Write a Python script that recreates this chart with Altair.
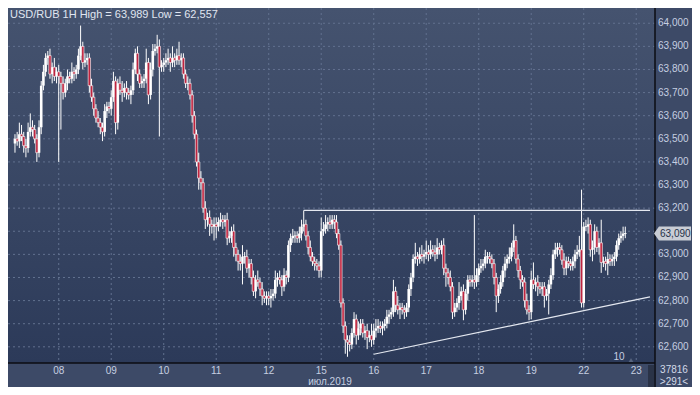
import altair as alt
import pandas as pd

# ---------------- data ----------------
title_text = "USD/RUB 1H High = 63,989 Low = 62,557"
month_label = "июл.2019"
volume_text = "37816"
count_text = ">291<"
marker_text = "10"

first_open = 63.48
closes = (
    # Jul 05 (partial)
    [63.50, 63.49, 63.52, 63.51, 63.47, 63.46, 63.53, 63.55, 63.54, 63.50, 63.44, 63.55, 63.73, 63.79, 63.85, 63.86, 63.78, 63.81, 63.77, 63.79]
    # Jul 08
    + [63.77, 63.74, 63.70, 63.74, 63.77, 63.76, 63.79, 63.78, 63.80, 63.86, 63.90, 63.83, 63.84, 63.85, 63.73, 63.68, 63.63, 63.59, 63.57, 63.55, 63.53, 63.62, 63.64, 63.63]
    # Jul 09
    + [63.68, 63.75, 63.57, 63.74, 63.71, 63.70, 63.72, 63.70, 63.69, 63.71, 63.80, 63.87, 63.78, 63.74, 63.75, 63.76, 63.83, 63.69, 63.80, 63.88, 63.89, 63.90, 63.81, 63.82]
    # Jul 10
    + [63.83, 63.84, 63.85, 63.83, 63.85, 63.84, 63.86, 63.84, 63.85, 63.78, 63.74, 63.74, 63.69, 63.60, 63.52, 63.40, 63.33, 63.31, 63.20, 63.15, 63.16, 63.13, 63.12, 63.13]
    # Jul 11
    + [63.12, 63.14, 63.15, 63.14, 63.15, 63.07, 63.08, 63.10, 63.03, 63.00, 62.97, 62.96, 62.99, 62.99, 62.94, 62.96, 62.90, 62.84, 62.89, 62.88, 62.85, 62.82, 62.81, 62.82]
    # Jul 12
    + [62.81, 62.82, 62.83, 62.89, 62.90, 62.89, 62.86, 62.91, 62.90, 63.04, 63.07, 63.08, 63.08, 63.07, 63.09, 63.12, 63.13, 63.08, 63.03, 62.99, 62.97, 62.96, 62.95, 62.93]
    # Jul 15
    + [63.10, 63.11, 63.13, 63.14, 63.13, 63.15, 63.14, 63.09, 63.04, 62.79, 62.69, 62.63, 62.62, 62.61, 62.66, 62.72, 62.65, 62.68, 62.70, 62.66, 62.67, 62.64, 62.65, 62.63]
    # Jul 16
    + [62.67, 62.68, 62.69, 62.68, 62.69, 62.70, 62.73, 62.74, 62.75, 62.84, 62.78, 62.76, 62.77, 62.76, 62.75, 62.77, 62.85, 62.90, 62.98, 62.99, 62.98, 63.00, 62.99, 63.00]
    # Jul 17
    + [63.01, 63.00, 63.02, 63.01, 63.00, 63.03, 63.02, 63.04, 62.94, 62.92, 62.90, 62.86, 62.75, 62.77, 62.79, 62.82, 62.84, 62.76, 62.83, 62.89, 62.88, 62.89, 62.88, 62.91]
    # Jul 18
    + [62.94, 62.95, 62.96, 62.99, 62.99, 62.98, 62.96, 62.90, 62.82, 62.85, 62.88, 62.93, 62.96, 62.98, 62.99, 63.03, 63.06, 62.98, 62.93, 62.89, 62.88, 62.80, 62.76, 62.75]
    # Jul 19
    + [62.89, 62.87, 62.88, 62.86, 62.85, 62.86, 62.82, 62.83, 62.87, 62.91, 63.00, 63.02, 63.03, 63.02, 62.975, 62.94, 62.97, 62.96, 62.95, 62.97, 63.00, 63.01, 63.02, 62.79]
    # Jul 22 (partial)
    + [63.12, 63.12, 63.13, 63.02, 63.03, 63.10, 63.03, 63.05, 62.965, 62.97, 62.96, 62.98, 62.97, 62.98, 62.99, 63.04, 63.07, 63.08, 63.09, 63.09]
)

wick_up = (
    [0.02, 0.03, 0.05, 0.04, 0.02, 0.03, 0.04, 0.06, 0.03, 0.02, 0.02, 0.03, 0.02, 0.03, 0.02, 0.02, 0.03, 0.02, 0.04, 0.02]
    + [0.03, 0.02, 0.03, 0.02, 0.03, 0.02, 0.04, 0.02, 0.02, 0.03, 0.09, 0.02, 0.03, 0.02, 0.02, 0.03, 0.02, 0.02, 0.03, 0.02, 0.02, 0.03, 0.02, 0.02]
    + [0.03, 0.04, 0.02, 0.02, 0.03, 0.04, 0.02, 0.03, 0.02, 0.02, 0.03, 0.02, 0.03, 0.02, 0.02, 0.02, 0.06, 0.02, 0.03, 0.03, 0.02, 0.05, 0.03, 0.02]
    + [0.02, 0.03, 0.04, 0.02, 0.05, 0.02, 0.03, 0.06, 0.02, 0.02, 0.02, 0.03, 0.02, 0.02, 0.02, 0.02, 0.04, 0.03, 0.02, 0.03, 0.02, 0.03, 0.02, 0.03]
    + [0.03, 0.02, 0.03, 0.02, 0.02, 0.03, 0.02, 0.02, 0.03, 0.02, 0.02, 0.03, 0.05, 0.02, 0.03, 0.02, 0.02, 0.03, 0.02, 0.04, 0.02, 0.03, 0.02, 0.02]
    + [0.02, 0.03, 0.02, 0.04, 0.02, 0.03, 0.02, 0.03, 0.02, 0.02, 0.02, 0.03, 0.02, 0.02, 0.03, 0.03, 0.06, 0.02, 0.02, 0.03, 0.02, 0.02, 0.02, 0.02]
    + [0.06, 0.03, 0.04, 0.02, 0.03, 0.02, 0.02, 0.03, 0.02, 0.02, 0.02, 0.02, 0.02, 0.03, 0.02, 0.03, 0.02, 0.03, 0.02, 0.02, 0.02, 0.03, 0.02, 0.05]
    + [0.03, 0.04, 0.03, 0.02, 0.02, 0.02, 0.03, 0.02, 0.02, 0.05, 0.02, 0.04, 0.02, 0.02, 0.02, 0.02, 0.02, 0.02, 0.02, 0.06, 0.02, 0.03, 0.04, 0.02]
    + [0.05, 0.03, 0.04, 0.02, 0.03, 0.04, 0.02, 0.02, 0.03, 0.02, 0.02, 0.03, 0.02, 0.02, 0.02, 0.06, 0.02, 0.03, 0.02, 0.02, 0.02, 0.02, 0.28, 0.03]
    + [0.02, 0.03, 0.02, 0.03, 0.02, 0.02, 0.02, 0.02, 0.02, 0.02, 0.03, 0.02, 0.03, 0.02, 0.04, 0.02, 0.07, 0.02, 0.02, 0.02, 0.02, 0.02, 0.03, 0.02]
    + [0.04, 0.075, 0.02, 0.03, 0.02, 0.02, 0.02, 0.02, 0.02, 0.03, 0.02, 0.03, 0.02, 0.02, 0.02, 0.03, 0.02, 0.02, 0.02, 0.02, 0.02, 0.03, 0.06, 0.26]
    + [0.02, 0.03, 0.03, 0.02, 0.03, 0.03, 0.02, 0.02, 0.10, 0.02, 0.02, 0.03, 0.02, 0.02, 0.02, 0.02, 0.02, 0.02, 0.03, 0.03]
)

wick_dn = (
    [0.04, 0.02, 0.03, 0.02, 0.03, 0.04, 0.02, 0.02, 0.03, 0.02, 0.04, 0.02, 0.03, 0.02, 0.02, 0.03, 0.02, 0.04, 0.02, 0.03]
    + [0.37, 0.20, 0.03, 0.02, 0.03, 0.02, 0.02, 0.03, 0.02, 0.02, 0.02, 0.03, 0.02, 0.02, 0.03, 0.02, 0.03, 0.02, 0.02, 0.03, 0.04, 0.02, 0.03, 0.02]
    + [0.03, 0.02, 0.05, 0.03, 0.02, 0.04, 0.02, 0.03, 0.02, 0.04, 0.02, 0.02, 0.03, 0.02, 0.02, 0.03, 0.02, 0.04, 0.02, 0.03, 0.02, 0.02, 0.30, 0.02]
    + [0.03, 0.02, 0.02, 0.04, 0.02, 0.03, 0.02, 0.02, 0.03, 0.02, 0.02, 0.03, 0.02, 0.03, 0.02, 0.02, 0.05, 0.03, 0.02, 0.04, 0.03, 0.05, 0.03, 0.06]
    + [0.05, 0.02, 0.02, 0.03, 0.02, 0.03, 0.02, 0.03, 0.04, 0.03, 0.04, 0.03, 0.09, 0.03, 0.02, 0.04, 0.03, 0.02, 0.03, 0.02, 0.03, 0.04, 0.02, 0.03]
    + [0.03, 0.04, 0.02, 0.02, 0.03, 0.02, 0.04, 0.02, 0.03, 0.02, 0.03, 0.02, 0.03, 0.02, 0.02, 0.03, 0.02, 0.02, 0.03, 0.02, 0.02, 0.03, 0.02, 0.03]
    + [0.03, 0.02, 0.02, 0.03, 0.02, 0.02, 0.03, 0.02, 0.02, 0.02, 0.03, 0.06, 0.063, 0.03, 0.02, 0.02, 0.04, 0.02, 0.03, 0.02, 0.03, 0.05, 0.02, 0.03]
    + [0.02, 0.03, 0.02, 0.02, 0.03, 0.02, 0.02, 0.03, 0.02, 0.02, 0.03, 0.02, 0.04, 0.02, 0.03, 0.02, 0.02, 0.03, 0.02, 0.02, 0.03, 0.02, 0.02, 0.03]
    + [0.02, 0.03, 0.02, 0.02, 0.03, 0.02, 0.02, 0.02, 0.03, 0.06, 0.03, 0.02, 0.03, 0.02, 0.02, 0.03, 0.02, 0.045, 0.02, 0.03, 0.02, 0.02, 0.03, 0.02]
    + [0.03, 0.02, 0.02, 0.02, 0.03, 0.02, 0.02, 0.03, 0.07, 0.03, 0.02, 0.02, 0.03, 0.02, 0.02, 0.02, 0.02, 0.02, 0.03, 0.04, 0.02, 0.03, 0.02, 0.035]
    + [0.03, 0.02, 0.03, 0.04, 0.02, 0.03, 0.05, 0.02, 0.09, 0.02, 0.02, 0.02, 0.03, 0.02, 0.02, 0.03, 0.03, 0.02, 0.02, 0.02, 0.03, 0.02, 0.02, 0.02]
    + [0.02, 0.02, 0.03, 0.03, 0.05, 0.03, 0.02, 0.03, 0.045, 0.02, 0.03, 0.05, 0.02, 0.02, 0.03, 0.02, 0.02, 0.02, 0.02, 0.02]
)

day_ticks = [20, 44, 68, 92, 116, 140, 164, 188, 212, 236, 260, 284]
day_labels = ["08", "09", "10", "11", "12", "15", "16", "17", "18", "19", "22", "23"]
price_ticks = [62.6, 62.7, 62.8, 62.9, 63.0, 63.1, 63.2, 63.3, 63.4, 63.5, 63.6, 63.7, 63.8, 63.9, 64.0]

resistance_x = [132, 290.3]
resistance_y = [63.19, 63.19]
support_x = [164, 290.3]
support_y = [62.568, 62.816]
last_price = 63.09

assert len(closes) == len(wick_up) == len(wick_dn) == 280

# ---------------- table ----------------
opens = [first_open] + closes[:-1]
rows = []
for i, (o, c, wu, wd) in enumerate(zip(opens, closes, wick_up, wick_dn)):
    top, bot = max(o, c), min(o, c)
    if top - bot < 0.004:
        top, bot = (o + c) / 2 + 0.002, (o + c) / 2 - 0.002
    rows.append(dict(i=i, open=o, close=c, high=max(o, c) + wu, low=min(o, c) - wd,
                     bt=top, bb=bot, up=bool(c >= o)))
df = pd.DataFrame(rows)

W, H = 647, 355
FONT = "Liberation Sans"
LABEL = "#c6cfe1"
xs = alt.Scale(domain=[-0.9, 290.3], nice=False, zero=False)
ys = alt.Scale(domain=[62.530, 64.066], nice=False, zero=False)

one = pd.DataFrame({"a": [0]})

bg = alt.Chart(one).mark_rect(
    fill=alt.LinearGradient(gradient="linear", x1=0, x2=0, y1=0, y2=1,
                            stops=[alt.GradientStop(color="#45536f", offset=0),
                                   alt.GradientStop(color="#2c3a59", offset=1)])
).encode(x=alt.value(0), x2=alt.value(W), y=alt.value(0), y2=alt.value(H))

hgrid = alt.Chart(pd.DataFrame({"p": price_ticks})).mark_rule(
    color="#62718f", strokeDash=[2, 3], strokeWidth=1
).encode(y=alt.Y("p:Q", scale=ys, axis=None))

vgrid = alt.Chart(pd.DataFrame({"d": day_ticks})).mark_rule(
    color="#62718f", strokeDash=[2, 3], strokeWidth=1
).encode(x=alt.X("d:Q", scale=xs, axis=None))

# axis labels, placed through the scales (the one under the price tag is hidden, as in the source)
ylab_df = pd.DataFrame({"p": price_ticks,
                        "lab": [f"{v:.3f}".replace(".", ",") for v in price_ticks]})
ylabels = alt.Chart(ylab_df).transform_filter(
    f"abs(datum.p - {last_price}) > 0.04"
).mark_text(
    align="left", baseline="middle", font=FONT, fontSize=10, color=LABEL, clip=False
).encode(x=alt.value(W + 3), y=alt.Y("p:Q", scale=ys, axis=None), text="lab:N")

xlab_df = pd.DataFrame({"d": day_ticks, "lab": day_labels})
xlabels = alt.Chart(xlab_df).mark_text(
    align="center", baseline="middle", font=FONT, fontSize=10, color=LABEL, clip=False
).encode(x=alt.X("d:Q", scale=xs, axis=None), y=alt.value(H + 8), text="lab:N")

wicks = alt.Chart(df).mark_rule(color="#ffffff", strokeWidth=1).encode(
    x=alt.X("i:Q", scale=xs, axis=None),
    y=alt.Y("low:Q", scale=ys, axis=None),
    y2="high:Q",
)

bodies_up = alt.Chart(df).transform_filter("datum.up").mark_bar(
    size=2.6, color="#ffffff"
).encode(x=alt.X("i:Q", scale=xs, axis=None), y=alt.Y("bb:Q", scale=ys, axis=None), y2="bt:Q")

bodies_dn = alt.Chart(df).transform_filter("!datum.up").mark_bar(
    size=2.4, fill="#c0243f", stroke="#ffffff", strokeWidth=0.6
).encode(x=alt.X("i:Q", scale=xs, axis=None), y=alt.Y("bb:Q", scale=ys, axis=None), y2="bt:Q")

trend_df = pd.DataFrame({
    "x": resistance_x + support_x,
    "y": resistance_y + support_y,
    "g": ["res", "res", "sup", "sup"],
})
trends = alt.Chart(trend_df).mark_line(color="#e4e8f0", strokeWidth=1.2).encode(
    x=alt.X("x:Q", scale=xs, axis=None), y=alt.Y("y:Q", scale=ys, axis=None), detail="g:N"
)

tag_df = pd.DataFrame({"p": [last_price], "lab": [f"{last_price:.3f}".replace(".", ",")]})
tag_shape = alt.Chart(tag_df).mark_point(
    shape="M-1,0L-0.73,-0.38L1,-0.38L1,0.38L-0.73,0.38Z", filled=True, opacity=1,
    color="#c9cdd5", size=1369, clip=False
).encode(x=alt.value(W + 17.5), y=alt.Y("p:Q", scale=ys, axis=None))
tag_text = alt.Chart(tag_df).mark_text(
    align="left", baseline="middle", color="#26324a", font=FONT, fontSize=10
).encode(x=alt.value(W + 5), y=alt.Y("p:Q", scale=ys, axis=None), text="lab:N")

frame_v = alt.Chart(one).mark_rule(color="#0b0d12", strokeWidth=1.5).encode(
    x=alt.value(W), y=alt.value(0), y2=alt.value(H + 24))
frame_h = alt.Chart(one).mark_rule(color="#0b0d12", strokeWidth=1.5).encode(
    x=alt.value(0), x2=alt.value(W), y=alt.value(H))
scroll = alt.Chart(one).mark_rect(color="#2a3347").encode(
    x=alt.value(W - 7), x2=alt.value(W - 1), y=alt.value(H + 2), y2=alt.value(H + 24))


def txt(s, x, y, align="left", size=10, color=LABEL):
    return alt.Chart(pd.DataFrame({"t": [s]})).mark_text(
        align=align, baseline="middle", font=FONT, fontSize=size, color=color
    ).encode(x=alt.value(x), y=alt.value(y), text="t:N")


title = txt(title_text, 2, 7, size=11, color="#e0e6f1")
month = txt(month_label, 322, H + 18.5, align="center")
marker = txt(marker_text, W - 36, H - 6, align="center")
marker_tri = alt.Chart(one).mark_point(shape="triangle-up", filled=True, color="#56647f",
                                       size=22, opacity=1).encode(
    x=alt.value(W - 24), y=alt.value(H - 3))
vol = txt(volume_text, W + 19, H + 7, align="center", color="#d3dae8")
cnt = txt(count_text, W + 19, H + 18.5, align="center", color="#d3dae8")

chart = alt.layer(
    bg, hgrid, vgrid, wicks, bodies_up, bodies_dn, trends, frame_v, frame_h, scroll,
    ylabels, xlabels, tag_shape, tag_text, title, month, marker, marker_tri, vol, cnt
).properties(
    width=W, height=H,
    autosize=alt.AutoSizeParams(type="none"),
    padding={"left": 0, "top": 0, "right": 37, "bottom": 24},
    background="#3d4a67",
).configure_view(stroke=None)

chart.save("out.html", embed_options={"renderer": "svg", "actions": False})
